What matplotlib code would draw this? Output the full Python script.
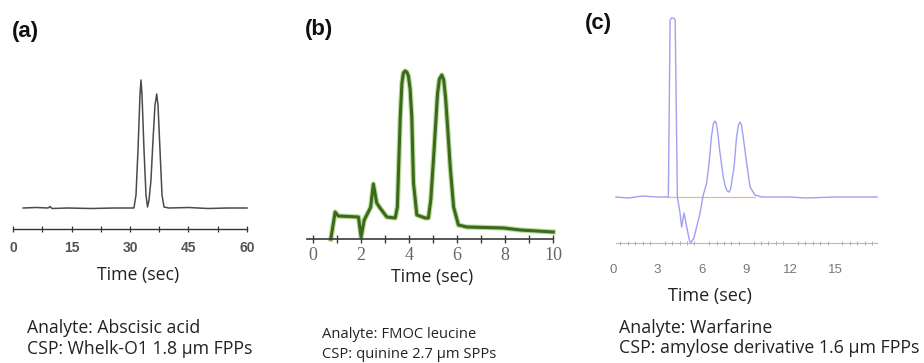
import matplotlib
matplotlib.use("Agg")
import matplotlib.pyplot as plt
from matplotlib.ticker import MultipleLocator

# (a) Abscisic acid, Whelk-O1 -- time (sec), signal (arb.)
t_a = [2.6, 6.0, 9.0, 9.5, 10.0, 14.0, 20.0, 26.0, 30.0, 31.0,
       31.54, 32.05, 32.56, 32.82, 33.08, 33.59, 34.10, 34.49, 34.87, 35.38,
       35.90, 36.41, 36.85, 37.18, 37.69, 38.21, 38.72, 40.0, 45.0, 50.0, 55.0, 60.0]
s_a = [0, 0.5, 0, 1.5, -0.5, 0, -0.5, 0, 0, 0,
       13, 58, 113, 128, 113, 58, 13, 1, 8, 28,
       68, 103, 114, 103, 58, 13, 1, 0, 0.5, -0.5, 0, 0]

# (b) FMOC leucine, quinine SPPs
t_b = [0.74, 0.92, 1.05, 1.89, 2.0, 2.13, 2.3, 2.4, 2.51, 2.65,
       2.79, 3.07, 3.42, 3.51, 3.63, 3.70, 3.76, 3.83, 3.90, 3.97,
       4.04, 4.11, 4.18, 4.32, 4.67, 4.8, 4.9, 5.0, 5.08, 5.18,
       5.26, 5.36, 5.44, 5.52, 5.62, 5.71, 5.85, 6.05, 6.4, 7.93,
       8.63, 10.0]
s_b = [0, 27, 23, 22, 2, 19, 27, 32, 55, 36,
       31, 22, 21, 32, 122, 156, 166, 168, 167, 163,
       150, 122, 56, 24, 21, 21, 39, 75, 106, 145,
       160, 164, 159, 140, 105, 72, 32, 14, 12, 11,
       9, 7]

# (c) Warfarine, amylose derivative FPPs
t_c = [0.2, 1.0, 2.0, 3.0, 3.74, 3.86, 3.96, 4.1, 4.2, 4.35,
       4.53, 4.64, 4.8, 4.93, 5.16, 5.25, 5.47, 5.88, 6.1, 6.33,
       6.5, 6.65, 6.78, 6.88, 6.98, 7.08, 7.23, 7.45, 7.6, 7.72,
       7.85, 7.95, 8.18, 8.35, 8.48, 8.58, 8.68, 8.8, 9.03, 9.26,
       9.59, 10.05, 12.0, 13.0, 15.0, 17.84]
s_c = [0, -1, 1, 0, 0, 177, 179, 179, 177, 0,
       -16, -30, -16, -26, -43, -46, -41, -16, 2, 14,
       35, 60, 73, 76, 74, 64, 44, 20, 10, 6,
       5, 8, 30, 60, 72, 75, 72, 60, 34, 10,
       2, 0, 0, -1, 0, 0]
ref_c = [3.7, 9.6]

ticks_a = [0, 15, 30, 45, 60]
ticks_b = [0, 2, 4, 6, 8, 10]
ticks_c = [0, 3, 6, 9, 12, 15]

W, H = 924, 363
fig = plt.figure(figsize=(W / 100, H / 100), dpi=100)


def px_axes(left, right, bottom, top):
    ax = fig.add_axes([left / W, 1 - bottom / H, (right - left) / W, (bottom - top) / H])
    for side in ['left', 'right', 'top']:
        ax.spines[side].set_visible(False)
    ax.set_yticks([])
    ax.patch.set_alpha(0)
    return ax


def ftext(x, y, s, **kw):
    fig.text(x / W, 1 - y / H, s, **kw)


# ---- panel (a)
ax = px_axes(13, 247, 229, 40)
ax.plot(t_a, s_a, color='#4a4a4a', lw=1.1, clip_on=False)
ax.set_xlim(0, 60)
ax.set_ylim(-21, 168)
ax.set_xticks(ticks_a)
ax.xaxis.set_minor_locator(MultipleLocator(7.5))
ax.spines['bottom'].set_color('#333333')
ax.spines['bottom'].set_linewidth(1.0)
ax.tick_params(axis='x', which='both', direction='inout', length=5, width=0.9, color='#333333')
ax.tick_params(axis='x', which='major', labelsize=10, labelcolor='#555555', pad=6)
for lab in ax.get_xticklabels():
    lab.set_fontweight('bold')
    lab.set_family('Liberation Sans')

# ---- panel (b)
ax = px_axes(306.8, 553.3, 239, 49)
ax.plot(t_b, s_b, color='#8fc25f', lw=3.8, alpha=0.6, clip_on=False, solid_joinstyle='round')
ax.plot(t_b, s_b, color='#3b6a1b', lw=2.2, clip_on=False, solid_joinstyle='round')
ax.set_xlim(-0.26, 10.0)
ax.set_ylim(0, 190)
ax.set_xticks(ticks_b)
ax.xaxis.set_minor_locator(MultipleLocator(1))
ax.spines['bottom'].set_color('#3a3a3a')
ax.spines['bottom'].set_linewidth(1.2)
ax.tick_params(axis='x', which='both', direction='inout', length=6, width=1.0, color='#3a3a3a')
ax.tick_params(axis='x', which='major', labelsize=13, labelcolor='#666666', pad=3)
for lab in ax.get_xticklabels():
    lab.set_family('Liberation Serif')

# ---- panel (c)
ax = px_axes(613, 877, 243, 15)
ax.plot(ref_c, [0, 0], color='#f2b48a', lw=0.9, clip_on=False)
ax.plot(t_c, s_c, color='#a0a0f0', lw=1.0, clip_on=False)
ax.set_xlim(0, 17.84)
ax.set_ylim(-46, 182)
ax.spines['bottom'].set_bounds(0.2, 17.84)
ax.spines['bottom'].set_color('#b8b8b8')
ax.spines['bottom'].set_linewidth(0.8)
ax.set_xticks(ticks_c)
ax.xaxis.set_minor_locator(MultipleLocator(0.5))
ax.tick_params(axis='x', which='both', direction='inout', length=3, width=0.7, color='#aaaaaa')
ax.tick_params(axis='x', which='major', labelsize=9.5, labelcolor='#777777', pad=15, length=0)
for lab in ax.get_xticklabels():
    lab.set_family('Liberation Sans')

# ---- panel letters and captions
lbl = dict(fontsize=16, fontweight='bold', family='Liberation Sans', va='center', ha='left', color='#111111')
ftext(12, 31, '(a)', **lbl)
ftext(305, 30, '(b)', **lbl)
ftext(585, 24, '(c)', **lbl)

cap = dict(family='Open Sans', va='center', color='#222222')
ftext(138, 275, 'Time (sec)', ha='center', fontsize=12.7, **cap)
ftext(432, 277, 'Time (sec)', ha='center', fontsize=12.7, **cap)
ftext(710, 296, 'Time (sec)', ha='center', fontsize=13, **cap)

ftext(27, 328, 'Analyte: Abscisic acid', ha='left', fontsize=12.7, **cap)
ftext(27, 349, 'CSP: Whelk-O1 1.8 µm FPPs', ha='left', fontsize=12.7, **cap)
ftext(322, 335, 'Analyte: FMOC leucine', ha='left', fontsize=10.6, **cap)
ftext(322, 355, 'CSP: quinine 2.7 µm SPPs', ha='left', fontsize=10.6, **cap)
ftext(619, 328, 'Analyte: Warfarine', ha='left', fontsize=12.8, **cap)
ftext(619, 348, 'CSP: amylose derivative 1.6 µm FPPs', ha='left', fontsize=12.8, **cap)

fig.savefig('out.png', dpi=100)
